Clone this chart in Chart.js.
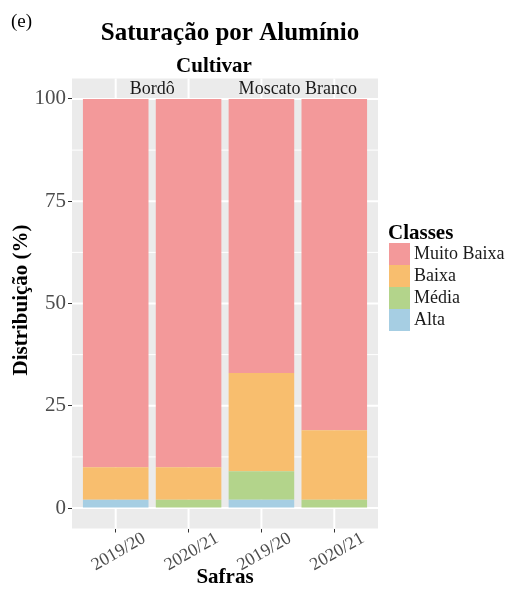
<!DOCTYPE html>
<html>
<head>
<meta charset="utf-8">
<script src="https://cdn.jsdelivr.net/npm/chart.js@4/dist/chart.umd.min.js"></script>
<style>
  html, body { margin: 0; padding: 0; background: #ffffff; }
  canvas { display: block; }
</style>
</head>
<body>
<canvas id="chart" width="514" height="592"></canvas>
<script>
// Categories: one bar per cultivar x harvest
const safras = ['2019/20', '2020/21', '2019/20', '2020/21'];
const cultivarPorBarra = ['Bordô', 'Bordô', 'Moscato Branco', 'Moscato Branco'];
const cultivares = ['Bordô', 'Moscato Branco'];

// Stacked series, bottom to top (percent)
const classes = ['Alta', 'Média', 'Baixa', 'Muito Baixa'];
const alta = [2, 0, 2, 0];
const media = [0, 2, 7, 2];
const baixa = [8, 8, 24, 17];
const muitoBaixa = [90, 90, 67, 81];

const yTicks = [0, 25, 50, 75, 100];

const classColors = {
  'Alta': 'rgb(166, 206, 227)',
  'Média': 'rgb(179, 212, 139)',
  'Baixa': 'rgb(248, 190, 110)',
  'Muito Baixa': 'rgb(243, 153, 154)'
};

const SERIF = '"Liberation Serif", "Times New Roman", Times, serif';
const seriesValues = [alta, media, baixa, muitoBaixa];

const datasets = classes.map((name, k) => ({
  label: name,
  data: seriesValues[k].map((v, i) => ({ x: i, y: v })),
  backgroundColor: classColors[name],
  borderWidth: 0,
  barPercentage: 0.9,
  categoryPercentage: 1.0
}));

// Grey panel, white grid, facet labels, titles and legend
const panelPlugin = {
  id: 'ggPanel',
  beforeDraw(chart) {
    const { ctx, chartArea: a, scales: { x, y } } = chart;
    ctx.save();
    ctx.fillStyle = '#EBEBEB';
    ctx.fillRect(a.left, a.top, a.right - a.left, a.bottom - a.top);
    ctx.strokeStyle = '#FFFFFF';
    // minor horizontal lines
    ctx.lineWidth = 1;
    for (let i = 0; i < yTicks.length - 1; i++) {
      const py = y.getPixelForValue((yTicks[i] + yTicks[i + 1]) / 2);
      ctx.beginPath(); ctx.moveTo(a.left, py); ctx.lineTo(a.right, py); ctx.stroke();
    }
    // major horizontal lines
    ctx.lineWidth = 2;
    yTicks.forEach(v => {
      const py = y.getPixelForValue(v);
      ctx.beginPath(); ctx.moveTo(a.left, py); ctx.lineTo(a.right, py); ctx.stroke();
    });
    // vertical lines at bar centres
    safras.forEach((s, i) => {
      const px = x.getPixelForValue(i);
      ctx.beginPath(); ctx.moveTo(px, a.top); ctx.lineTo(px, a.bottom); ctx.stroke();
    });
    ctx.restore();
  },
  afterDraw(chart) {
    const { ctx, chartArea: a, scales: { x, y } } = chart;
    ctx.save();

    // facet labels inside the top of the panel
    ctx.fillStyle = '#1A1A1A';
    ctx.font = `18px ${SERIF}`;
    ctx.textAlign = 'center';
    ctx.textBaseline = 'middle';
    cultivares.forEach(c => {
      const idx = cultivarPorBarra.map((v, i) => v === c ? i : -1).filter(i => i >= 0);
      const mid = idx.reduce((s, i) => s + i, 0) / idx.length;
      ctx.fillText(c, x.getPixelForValue(mid), y.getPixelForValue(102.4));
    });

    // rotated harvest labels
    ctx.fillStyle = '#4D4D4D';
    ctx.font = `18px ${SERIF}`;
    safras.forEach((s, i) => {
      ctx.save();
      ctx.translate(x.getPixelForValue(i) + 3, 552);
      ctx.rotate(-Math.PI / 6);
      ctx.textAlign = 'center';
      ctx.textBaseline = 'middle';
      ctx.fillText(s, 0, 0);
      ctx.restore();
    });

    // panel tag
    ctx.fillStyle = '#000000';
    ctx.font = `19px ${SERIF}`;
    ctx.textAlign = 'left';
    ctx.fillText('(e)', 11, 22);

    // titles
    ctx.textAlign = 'center';
    ctx.font = `bold 25px ${SERIF}`;
    ctx.fillText('Saturação por Alumínio', 230, 34);
    ctx.font = `bold 21px ${SERIF}`;
    ctx.fillText('Cultivar', 214, 67);
    ctx.fillText('Safras', (a.left + a.right) / 2, 578);

    ctx.save();
    ctx.translate(22, 300);
    ctx.rotate(-Math.PI / 2);
    ctx.fillText('Distribuição (%)', 0, 0);
    ctx.restore();

    // legend
    ctx.textAlign = 'left';
    ctx.font = `bold 21px ${SERIF}`;
    ctx.fillText('Classes', 388, 234);
    const order = classes.slice().reverse();
    ctx.font = `18px ${SERIF}`;
    order.forEach((name, r) => {
      const top = 243 + r * 22;
      ctx.fillStyle = classColors[name];
      ctx.fillRect(389, top, 21, 22);
      ctx.fillStyle = '#1A1A1A';
      ctx.fillText(name, 414, top + 11);
    });

    ctx.restore();
  }
};

new Chart(document.getElementById('chart'), {
  type: 'bar',
  data: { datasets },
  plugins: [panelPlugin],
  options: {
    responsive: false,
    animation: false,
    layout: { padding: { top: 78.5, right: 136, bottom: 0, left: 0 } },
    plugins: { legend: { display: false }, tooltip: { enabled: false }, title: { display: false } },
    scales: {
      x: {
        type: 'linear',
        min: -0.6,
        max: 3.6,
        stacked: true,
        offset: false,
        afterBuildTicks: s => { s.ticks = safras.map((_, i) => ({ value: i })); },
        afterFit: s => { s.height = 63.5; },
        grid: { offset: false, drawOnChartArea: false, drawTicks: true, tickLength: 4, color: '#333333', lineWidth: 1 },
        border: { display: false },
        ticks: { display: false }
      },
      y: {
        type: 'linear',
        min: -5,
        max: 105,
        stacked: true,
        afterBuildTicks: s => { s.ticks = yTicks.map(v => ({ value: v })); },
        afterFit: s => { s.width = 72; },
        grid: { drawOnChartArea: false, drawTicks: true, tickLength: 4, color: '#333333', lineWidth: 1 },
        border: { display: false },
        ticks: { font: { family: SERIF, size: 21 }, color: '#4D4D4D', padding: 2 }
      }
    }
  }
});
</script>
</body>
</html>
